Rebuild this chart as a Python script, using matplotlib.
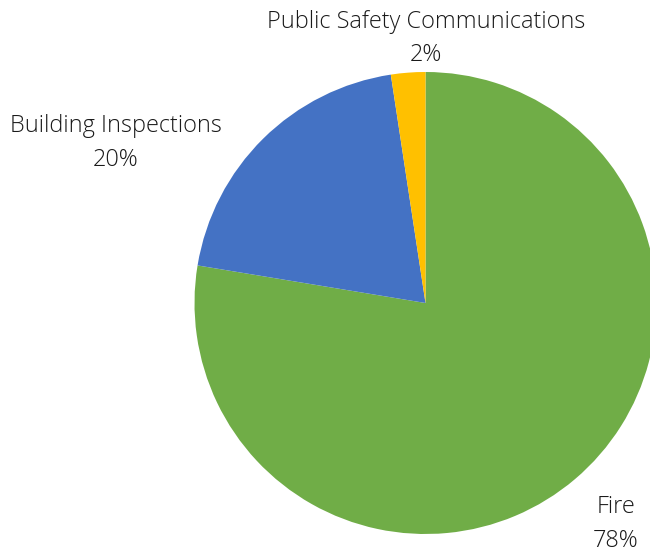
import matplotlib
matplotlib.use("Agg")
import matplotlib.pyplot as plt

# Budget share by department
categories = ["Fire", "Building Inspections", "Public Safety Communications"]
shares = [77.6, 20.0, 2.4]
colors = ["#70AD47", "#4472C4", "#FFC000"]

W, H = 650, 552
fig = plt.figure(figsize=(W / 100, H / 100), dpi=100)
ax = fig.add_axes([0, 0, 1, 1])

center = (425.5, H - 303)
radius = 231

ax.pie(shares, colors=colors, startangle=90, counterclock=False,
       center=center, radius=radius, frame=True,
       wedgeprops=dict(linewidth=0))
ax.set_xlim(0, W)
ax.set_ylim(0, H)
ax.set_aspect("equal")
ax.axis("off")

# Label positions (pixel units, top-left origin)
label_pos = {
    "Fire": (616, 524),
    "Building Inspections": (116, 143),
    "Public Safety Communications": (426, 38.5),
}
for name, val in zip(categories, shares):
    x, y = label_pos[name]
    ax.text(x, H - y, f"{name}\n{val:.0f}%", ha="center", va="center",
            fontsize=16.9, family="Open Sans", fontweight="light",
            color="#1a1a1a", linespacing=1.55)

fig.savefig("out.png", dpi=100)
